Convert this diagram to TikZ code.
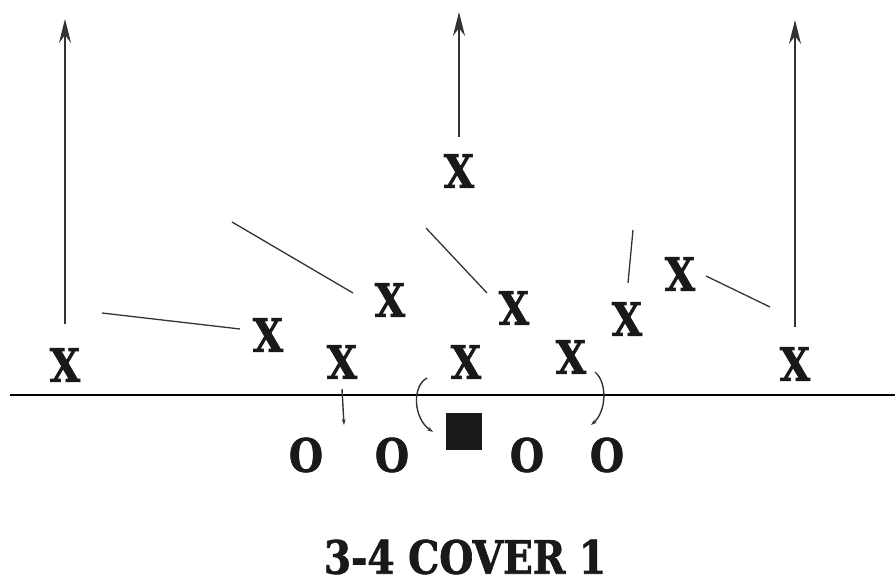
\documentclass[tikz,border=0pt]{standalone}
\usepackage{fontspec}
\newfontfamily\playfont[FakeStretch=0.85,BoldFeatures={FakeBold=1.4}]{DejaVu Serif}
\usetikzlibrary{arrows.meta}
\def\mycolorp{black!90}
\def\mycolorl{black!80}

\begin{document}
\begin{tikzpicture}[x=1pt,y=-1pt]
\tikzstyle{player}=[inner sep=1pt,color=\mycolorp,font=\playfont\bfseries\fontsize{46}{46}\selectfont]
\tikzstyle{deep}=[line width=1.8pt,color=\mycolorl,-{Stealth[length=24pt,width=12pt,inset=8pt]}]
\tikzstyle{route}=[line width=1.3pt,color=\mycolorl]
\tikzstyle{block}=[line width=1.4pt,color=\mycolorl,-{Stealth[length=6pt,width=4pt]}]

\useasboundingbox (0,0) rectangle (895,586);

\coordinate (losleft) at (10,395);
\coordinate (losright) at (895,395);
\draw [line width=1.6pt] (losleft) -- (losright);

% defense
\node (X1) [player] at (65,365) {X};
\node (X2) [player] at (268,335) {X};
\node (X3) [player] at (342,362) {X};
\node (X4) [player] at (390,300) {X};
\node (X5) [player] at (459,171) {X};
\node (X6) [player] at (466,362) {X};
\node (X7) [player] at (514,308) {X};
\node (X8) [player] at (571,357) {X};
\node (X9) [player] at (627,319) {X};
\node (X10) [player] at (680,274) {X};
\node (X11) [player] at (795,364) {X};

% offense
\node (O1) [player] at (306,455) {O};
\node (O2) [player] at (392,455) {O};
\node (C) [fill=\mycolorp,minimum width=36pt,minimum height=37pt,inner sep=0pt] at (464,431) {};
\node (O3) [player] at (527,455) {O};
\node (O4) [player] at (607,455) {O};

\path (X1) + (0,-41) coordinate (X1a);
\path (X1) + (0,-346) coordinate (X1b);
\path (X5) + (0,-34) coordinate (X5a);
\path (X5) + (0,-159) coordinate (X5b);
\path (X11) + (0,-37) coordinate (X11a);
\path (X11) + (0,-344) coordinate (X11b);

\path (X2) + (-28,-6) coordinate (X2a);
\path (X2) + (-166,-22) coordinate (X2b);
\path (X4) + (-37,-7) coordinate (X4a);
\path (X4) + (-158,-78) coordinate (X4b);
\path (X7) + (-27,-15) coordinate (X7a);
\path (X7) + (-88,-80) coordinate (X7b);
\path (X9) + (1,-36) coordinate (X9a);
\path (X9) + (6,-89) coordinate (X9b);
\path (X10) + (26,2) coordinate (X10a);
\path (X10) + (90,33) coordinate (X10b);
\path (X3) + (0,27) coordinate (X3a);
\path (X3) + (2,63) coordinate (X3b);

\path (C) + (-37,-53) coordinate (Cla);
\path (C) + (-31,1) coordinate (Clb);
\path (C) + (131,-59) coordinate (Cra);
\path (C) + (127,-6) coordinate (Crb);

\draw [deep] (X1a) -- (X1b);
\draw [deep] (X5a) -- (X5b);
\draw [deep] (X11a) -- (X11b);

\draw [route] (X2a) -- (X2b);
\draw [route] (X4a) -- (X4b);
\draw [route] (X7a) -- (X7b);
\draw [route] (X9a) -- (X9b);
\draw [route] (X10a) -- (X10b);

\draw [block] (X3a) -- (X3b);
\draw [block] (Cla) .. controls +(-15,8) and +(-20,-14) .. (Clb);
\draw [block] (Cra) .. controls +(13,11) and +(15,-13) .. (Crb);

\node (title) [player] at (465,557) {3-4 COVER 1};

\end{tikzpicture}
\end{document}
